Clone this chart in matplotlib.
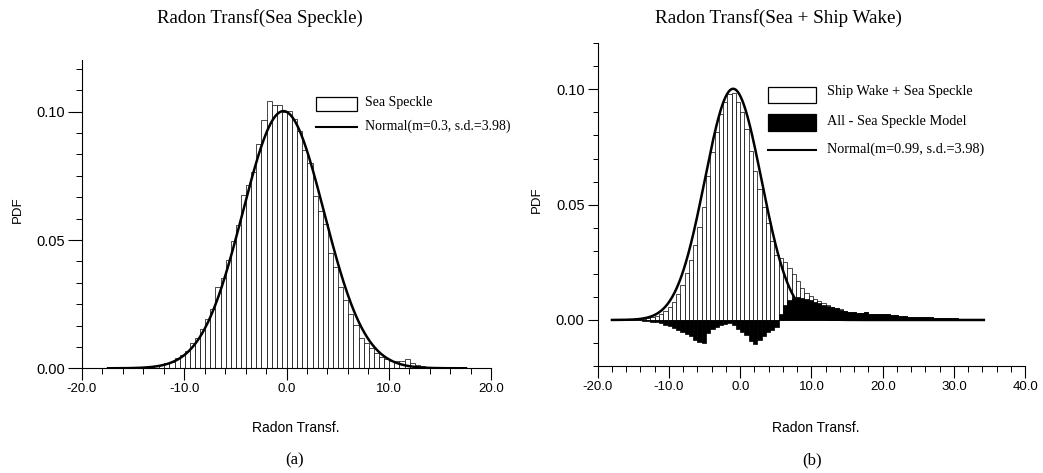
import numpy as np
import matplotlib
matplotlib.use('Agg')
import matplotlib.pyplot as plt
from matplotlib.patches import Rectangle
from matplotlib.lines import Line2D
from matplotlib.ticker import MultipleLocator, FormatStrFormatter

W, H = 1043, 473
SERIF = 'Liberation Serif'
SANS = 'Liberation Sans'
plt.rcParams['axes.unicode_minus'] = False

# (a) Radon transform of sea speckle, bins of 0.5 starting at -17.45
a_start, a_width = -17.45, 0.5
pdf_a = [0.0001, 0.0001, 0.0001, 0.0002, 0.0002, 0.0003, 0.0003, 0.0004, 0.0006, 0.0009,
         0.0013, 0.0019, 0.0026, 0.0039, 0.0052, 0.0068, 0.0097, 0.0120, 0.0155, 0.0194,
         0.0233, 0.0315, 0.0350, 0.0421, 0.0496, 0.0557, 0.0677, 0.0716, 0.0764, 0.0874,
         0.0968, 0.1040, 0.1027, 0.1027, 0.0997, 0.1004, 0.0972, 0.0924, 0.0851, 0.0799,
         0.0670, 0.0613, 0.0564, 0.0451, 0.0395, 0.0317, 0.0265, 0.0211, 0.0168, 0.0120,
         0.0097, 0.0078, 0.0058, 0.0045, 0.0035, 0.0030, 0.0028, 0.0030, 0.0035, 0.0022,
         0.0013, 0.0010, 0.0007, 0.0005, 0.0004, 0.0003, 0.0002, 0.0002, 0.0001, 0.0001]
mean_a, sd_a = -0.3, 3.98

# (b) sea + ship wake, bins of 0.6 starting at -18.0
b_start, b_width = -18.0, 0.6
pdf_b = [0.0000, 0.0000, 0.0001, 0.0001, 0.0002, 0.0002, 0.0002, 0.0004, 0.0007, 0.0011,
         0.0017, 0.0026, 0.0038, 0.0055, 0.0080, 0.0112, 0.0153, 0.0203, 0.0262, 0.0326,
         0.0403, 0.0488, 0.0623, 0.0727, 0.0817, 0.0892, 0.0946, 0.0980, 0.0982, 0.0947,
         0.0901, 0.0830, 0.0734, 0.0645, 0.0570, 0.0491, 0.0421, 0.0342, 0.0281, 0.0269,
         0.0252, 0.0226, 0.0198, 0.0168, 0.0140, 0.0118, 0.0103, 0.0092, 0.0082, 0.0073,
         0.0064, 0.0057, 0.0053, 0.0046, 0.0038, 0.0035, 0.0033, 0.0031, 0.0029, 0.0036,
         0.0028, 0.0027, 0.0026, 0.0025, 0.0024, 0.0021, 0.0020, 0.0019, 0.0016, 0.0015,
         0.0013, 0.0012, 0.0012, 0.0011, 0.0011, 0.0009, 0.0008, 0.0008, 0.0008, 0.0007,
         0.0007, 0.0006, 0.0006, 0.0005, 0.0005, 0.0004, 0.0004]
# all - sea speckle model (residual)
resid_b = [0.0, 0.0, 0.0, 0.0, 0.0, -0.0001, -0.0002, -0.0003, -0.0004, -0.0007,
           -0.0010, -0.0014, -0.0020, -0.0027, -0.0033, -0.0042, -0.0050, -0.0060, -0.0071, -0.0086,
           -0.0095, -0.0100, -0.0056, -0.0040, -0.0030, -0.0022, -0.0018, -0.0014, -0.0020, -0.0040,
           -0.0050, -0.0065, -0.0090, -0.0105, -0.0085, -0.0070, -0.0050, -0.0045, -0.0030, 0.0025,
           0.0065, 0.0085, 0.0095, 0.0099, 0.0097, 0.0092, 0.0086, 0.0080, 0.0074, 0.0067,
           0.0060, 0.0055, 0.0052, 0.0045, 0.0038, 0.0035, 0.0033, 0.0031, 0.0029, 0.0036,
           0.0028, 0.0027, 0.0026, 0.0025, 0.0024, 0.0021, 0.0020, 0.0019, 0.0016, 0.0015,
           0.0013, 0.0012, 0.0012, 0.0011, 0.0011, 0.0009, 0.0008, 0.0008, 0.0008, 0.0007,
           0.0007, 0.0006, 0.0006, 0.0005, 0.0005, 0.0004, 0.0004]
mean_b, sd_b = -0.99, 3.98


def normal_pdf(x, m, s):
    return np.exp(-0.5 * ((x - m) / s) ** 2) / (s * np.sqrt(2 * np.pi))


def fx(px):
    return px / W


def fy(py):
    return 1 - py / H


def style_axis(ax, ymaj_len, ymin_len):
    for s in ('top', 'right'):
        ax.spines[s].set_visible(False)
    for s in ('left', 'bottom'):
        ax.spines[s].set_linewidth(0.8)
    ax.tick_params(axis='x', which='major', direction='out', length=8.5, width=0.8,
                   pad=2, labelsize=9.5)
    ax.tick_params(axis='x', which='minor', direction='out', length=4.5, width=0.7)
    ax.tick_params(axis='y', which='major', direction='out', length=ymaj_len, width=0.8,
                   pad=2, labelsize=10.5)
    ax.tick_params(axis='y', which='minor', direction='out', length=ymin_len, width=0.7)
    ax.xaxis.set_major_locator(MultipleLocator(10))
    ax.xaxis.set_minor_locator(MultipleLocator(2))
    ax.xaxis.set_major_formatter(FormatStrFormatter('%.1f'))
    ax.yaxis.set_major_formatter(FormatStrFormatter('%.2f'))
    for lab in ax.get_xticklabels() + ax.get_yticklabels():
        lab.set_family(SANS)


fig = plt.figure(figsize=(W / 100, H / 100), dpi=100)
fig.patch.set_facecolor('white')

# ---- panel (a)
axA = fig.add_axes([fx(82), fy(368.3), 409 / W, 307.9 / H])
edges_a = a_start + a_width * np.arange(len(pdf_a))
axA.bar(edges_a, pdf_a, width=a_width, align='edge', facecolor='white',
        edgecolor='black', linewidth=0.5)
xa = np.linspace(a_start, a_start + a_width * len(pdf_a), 400)
axA.plot(xa, normal_pdf(xa, mean_a, sd_a), color='black', lw=1.8)
axA.set_xlim(-20, 20)
axA.set_ylim(0, 0.12)
axA.set_yticks([0.0, 0.05, 0.10])
axA.yaxis.set_minor_locator(MultipleLocator(0.05 / 6))
style_axis(axA, 10, 4.5)

# ---- panel (b)
axB = fig.add_axes([fx(597.7), fy(366.1), 427.5 / W, 322.9 / H])
edges_b = b_start + b_width * np.arange(len(pdf_b))
axB.bar(edges_b, pdf_b, width=b_width, align='edge', facecolor='white',
        edgecolor='black', linewidth=0.5)
axB.bar(edges_b, resid_b, width=b_width, align='edge', facecolor='black',
        edgecolor='black', linewidth=0.5)
xb = np.linspace(b_start, b_start + b_width * len(pdf_b), 500)
axB.plot(xb, normal_pdf(xb, mean_b, sd_b), color='black', lw=1.8)
axB.set_xlim(-20, 40)
axB.set_ylim(-0.02, 0.12)
axB.set_yticks([0.0, 0.05, 0.10])
axB.yaxis.set_minor_locator(MultipleLocator(0.01))
style_axis(axB, 7.5, 3.6)

# ---- titles and labels
fig.text(fx(260), fy(18), 'Radon Transf(Sea Speckle)', ha='center', va='center',
         fontsize=13.5, family=SERIF)
fig.text(fx(778), fy(18), 'Radon Transf(Sea + Ship Wake)', ha='center', va='center',
         fontsize=13.8, family=SERIF)
fig.text(fx(18), fy(210), 'PDF', rotation=90, ha='center', va='center',
         fontsize=9.5, family=SANS)
fig.text(fx(537), fy(200), 'PDF', rotation=90, ha='center', va='center',
         fontsize=9.5, family=SANS)
fig.text(fx(296), fy(428), 'Radon Transf.', ha='center', va='center',
         fontsize=10, family=SANS)
fig.text(fx(816), fy(428), 'Radon Transf.', ha='center', va='center',
         fontsize=10, family=SANS)
fig.text(fx(295), fy(460), '(a)', ha='center', va='center', fontsize=12, family=SERIF)
fig.text(fx(812), fy(460), '(b)', ha='center', va='center', fontsize=12, family=SERIF)

# ---- legend (a)
fig.add_artist(Rectangle((fx(316), fy(110.7)), 40.7 / W, 14 / H, transform=fig.transFigure,
                         facecolor='white', edgecolor='black', linewidth=0.9))
fig.add_artist(Line2D([fx(316), fx(357)], [fy(127), fy(127)], transform=fig.transFigure,
                      color='black', lw=1.5))
fig.text(fx(365), fy(102.5), 'Sea Speckle', ha='left', va='center', fontsize=10, family=SERIF)
fig.text(fx(365), fy(126), 'Normal(m=0.3, s.d.=3.98)', ha='left', va='center',
         fontsize=10, family=SERIF)

# ---- legend (b)
fig.add_artist(Rectangle((fx(768.3), fy(102.7)), 47.7 / W, 16 / H, transform=fig.transFigure,
                         facecolor='white', edgecolor='black', linewidth=0.9))
fig.add_artist(Rectangle((fx(768.3), fy(130.7)), 47.7 / W, 16.7 / H, transform=fig.transFigure,
                         facecolor='black', edgecolor='black', linewidth=0.9))
fig.add_artist(Line2D([fx(768.3), fx(816)], [fy(150), fy(150)], transform=fig.transFigure,
                      color='black', lw=1.5))
fig.text(fx(827.3), fy(92), 'Ship Wake + Sea Speckle', ha='left', va='center',
         fontsize=10.3, family=SERIF)
fig.text(fx(827.3), fy(121), 'All - Sea Speckle Model', ha='left', va='center',
         fontsize=10.3, family=SERIF)
fig.text(fx(827.3), fy(149.5), 'Normal(m=0.99, s.d.=3.98)', ha='left', va='center',
         fontsize=10.3, family=SERIF)

fig.savefig('out.png', dpi=100, facecolor='white')
